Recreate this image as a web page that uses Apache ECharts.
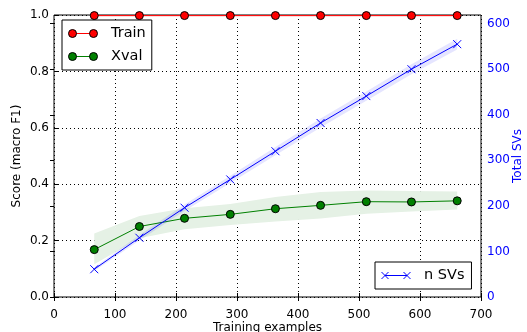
<!DOCTYPE html>
<html>
<head>
<meta charset="utf-8">
<script src="https://cdn.jsdelivr.net/npm/echarts@6/dist/echarts.min.js"></script>
<style>
html,body{margin:0;padding:0;background:#fff;}
#chart{width:527px;height:332px;}
</style>
</head>
<body>
<div id="chart"></div>
<script>
// ---- data ----
const trainSizes = [66, 140, 214, 289, 363, 437, 512, 586, 661];
const trainScore = [0.998, 0.998, 0.998, 0.998, 0.998, 0.998, 0.998, 0.998, 0.998];
const trainLow   = [0.994, 0.994, 0.994, 0.994, 0.994, 0.994, 0.994, 0.994, 0.994];
const trainHigh  = [1.0, 1.0, 1.0, 1.0, 1.0, 1.0, 1.0, 1.0, 1.0];
const xvalScore  = [0.168, 0.250, 0.279, 0.293, 0.313, 0.325, 0.338, 0.337, 0.341];
const xvalLow    = [0.116, 0.208, 0.240, 0.255, 0.268, 0.278, 0.295, 0.303, 0.310];
const xvalHigh   = [0.225, 0.287, 0.315, 0.330, 0.355, 0.372, 0.378, 0.376, 0.374];
const nSVs       = [61, 130, 196, 258, 320, 382, 441, 500, 555];
const nSVsLow    = [57, 124, 189, 250, 311, 372, 431, 489, 543];
const nSVsHigh   = [65, 136, 203, 266, 329, 392, 451, 511, 567];
const xTicks = [0, 100, 200, 300, 400, 500, 600, 700];
const scoreTicks = [0.0, 0.2, 0.4, 0.6, 0.8, 1.0];
const svTicks = [0, 100, 200, 300, 400, 500, 600];

function pairs(xs, ys) { return xs.map((x, i) => [x, ys[i]]); }

function svgUrl(s) { return 'image://data:image/svg+xml;charset=utf-8,' + encodeURIComponent(s); }
const dotIcon = (c) => svgUrl("<svg xmlns='http://www.w3.org/2000/svg' width='30' height='10'>" +
  "<line x1='4.5' y1='5' x2='25.5' y2='5' stroke='" + c + "' stroke-width='1'/>" +
  "<circle cx='4.5' cy='5' r='4' fill='" + c + "' stroke='black' stroke-width='1'/>" +
  "<circle cx='25.5' cy='5' r='4' fill='" + c + "' stroke='black' stroke-width='1'/></svg>");
const xIcon = svgUrl("<svg xmlns='http://www.w3.org/2000/svg' width='30' height='10'>" +
  "<line x1='4' y1='5' x2='26' y2='5' stroke='#0000ff' stroke-width='1'/>" +
  "<path d='M0.5,1.5 L7.5,8.5 M0.5,8.5 L7.5,1.5 M22.5,1.5 L29.5,8.5 M22.5,8.5 L29.5,1.5' stroke='#0000ff' stroke-width='1' fill='none'/></svg>");

const FONT = 'DejaVu Sans';
const RED = '#ff0000', GREEN = '#008000', BLUE = '#0000ff';

function bandSeries(xs, lo, hi, fill, yAxisIndex, z) {
  return {
    type: 'custom', yAxisIndex: yAxisIndex, silent: true, z: z, clip: false,
    data: [[xs[0], lo[0]]],
    renderItem: function (params, api) {
      const top = xs.map((x, i) => api.coord([x, hi[i]]));
      const bot = xs.map((x, i) => api.coord([x, lo[i]])).reverse();
      return {type: 'polygon', shape: {points: top.concat(bot)}, style: {fill: fill, stroke: null}};
    }
  };
}

const chart = echarts.init(document.getElementById('chart'), null, {renderer: 'canvas'});

const dotted = {show: true, lineStyle: {color: '#000', type: [1, 3], width: 1}};

const option = {
  animation: false,
  textStyle: {fontFamily: FONT},
  grid: {left: 54, right: 46, top: 15, bottom: 35, containLabel: false, outerBoundsMode: 'none',
         show: true, borderColor: '#000', borderWidth: 1, backgroundColor: 'transparent'},
  legend: [
    {
      data: [{name: 'Train', icon: dotIcon(RED)}, {name: 'Xval', icon: dotIcon(GREEN)}],
      orient: 'vertical', left: 62, top: 20,
      padding: [6, 6, 6, 6], itemGap: 8, itemWidth: 30, itemHeight: 10,
      backgroundColor: '#fff', borderColor: '#000', borderWidth: 1, borderRadius: 0,
      textStyle: {fontFamily: FONT, fontSize: 14.5, color: '#000', padding: [0, 0, 0, 8]},
      selectedMode: false
    },
    {
      data: [{name: 'n SVs', icon: xIcon}],
      orient: 'vertical', left: 375, top: 262,
      padding: [6, 7, 6, 6], itemWidth: 30, itemHeight: 10,
      backgroundColor: '#fff', borderColor: '#000', borderWidth: 1, borderRadius: 0,
      textStyle: {fontFamily: FONT, fontSize: 14.5, color: '#000', padding: [0, 0, 0, 8]},
      selectedMode: false
    }
  ],
  xAxis: [
    {
      type: 'value', min: xTicks[0], max: xTicks[xTicks.length - 1], interval: 100,
      name: 'Training examples', nameLocation: 'middle', nameGap: 25, nameMoveOverlap: false,
      nameTextStyle: {fontFamily: FONT, fontSize: 12, color: '#000'},
      axisLine: {show: false},
      axisTick: {show: true, inside: true, length: 4, lineStyle: {color: '#000'}},
      axisLabel: {fontFamily: FONT, fontSize: 12, color: '#000', margin: 12},
      splitLine: dotted
    },
    {
      type: 'value', position: 'top', min: xTicks[0], max: xTicks[xTicks.length - 1], interval: 100,
      axisLine: {show: false},
      axisTick: {show: true, inside: true, length: 4, lineStyle: {color: '#000'}},
      axisLabel: {show: false}, splitLine: {show: false}
    }
  ],
  yAxis: [
    {
      type: 'value', min: scoreTicks[0], max: scoreTicks[scoreTicks.length - 1], interval: 0.2,
      name: 'Score (macro F1)', nameLocation: 'middle', nameGap: 31, nameMoveOverlap: false,
      nameTextStyle: {fontFamily: FONT, fontSize: 12, color: '#000'},
      axisLine: {show: false},
      axisTick: {show: true, inside: true, length: 4, lineStyle: {color: '#000'}},
      axisLabel: {fontFamily: FONT, fontSize: 12, color: '#000', margin: 5, formatter: v => v.toFixed(1)},
      splitLine: dotted
    },
    {
      type: 'value', position: 'right', min: svTicks[0], max: 619, interval: 100,
      name: 'Total SVs', nameLocation: 'middle', nameGap: 31, nameMoveOverlap: false,
      nameTextStyle: {fontFamily: FONT, fontSize: 12, color: BLUE},
      axisLine: {show: false},
      axisTick: {show: true, inside: true, length: 4, lineStyle: {color: '#000'}},
      axisLabel: {fontFamily: FONT, fontSize: 12, color: BLUE, margin: 6, showMaxLabel: false},
      splitLine: {show: false}
    }
  ],
  series: [
    bandSeries(trainSizes, trainLow, trainHigh, '#ffe3e3', 0, 1),
    bandSeries(trainSizes, xvalLow, xvalHigh, '#e5f1e5', 0, 1),
    {
      name: 'Train', type: 'line', data: pairs(trainSizes, trainScore), clip: false,
      symbol: 'circle', symbolSize: 8, showAllSymbol: true,
      lineStyle: {color: RED, width: 1}, itemStyle: {color: RED, borderColor: '#000', borderWidth: 1}, z: 3
    },
    {
      name: 'Xval', type: 'line', data: pairs(trainSizes, xvalScore),
      symbol: 'circle', symbolSize: 8, showAllSymbol: true,
      lineStyle: {color: GREEN, width: 1}, itemStyle: {color: GREEN, borderColor: '#000', borderWidth: 1}, z: 3
    },
    bandSeries(trainSizes, nSVsLow, nSVsHigh, 'rgba(0,0,255,0.1)', 1, 4),
    {
      name: 'n SVs', type: 'line', yAxisIndex: 1, data: pairs(trainSizes, nSVs),
      symbol: 'path://M0,0L10,10M0,10L10,0', symbolSize: 8, showAllSymbol: true,
      lineStyle: {color: BLUE, width: 1}, itemStyle: {color: 'none', borderColor: BLUE, borderWidth: 1}, z: 5
    }
  ]
};
chart.setOption(option);
</script>
</body>
</html>
